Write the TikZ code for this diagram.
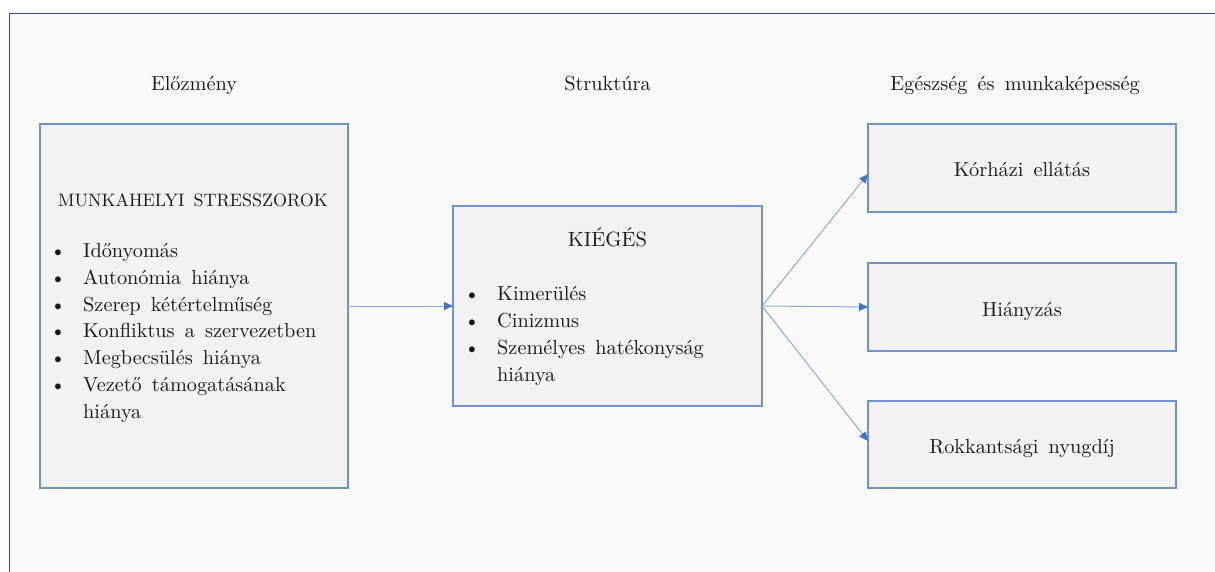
\documentclass[tikz,border=0pt]{standalone}
\usepackage{fontspec}
\setmainfont{lmroman10-regular.otf}
\usetikzlibrary{arrows.meta}
\definecolor{framec}{RGB}{47,82,143}
\definecolor{pagebg}{RGB}{250,250,250}
\definecolor{boxfill}{RGB}{242,242,242}
\definecolor{boxc}{RGB}{113,146,200}
\definecolor{connc}{RGB}{142,169,219}
\definecolor{tipc}{RGB}{68,114,196}
\definecolor{textc}{RGB}{25,25,25}
\newcommand\widesp{\spaceskip=0.5em\relax}
\newcommand\bodyfont{\fontsize{20.3}{26}\selectfont\widesp}
\newcommand\capfont{\fontsize{18}{24}\selectfont\widesp}
\newcommand\kfont{\fontsize{20.6}{26}\selectfont}
\begin{document}
\begin{tikzpicture}[x=1pt,y=-1pt,
  box/.style={draw=boxc, fill=boxfill, line width=1.3pt, inner sep=0pt, outer sep=0pt, anchor=north west},
  txt/.style={font=\bodyfont, text=textc, inner sep=0pt, anchor=base},
  captxt/.style={txt, font=\capfont},
  conn/.style={draw=connc, line width=1pt, -{Triangle[length=9pt,width=8pt,color=tipc]}}]
\useasboundingbox (0,0) rectangle (1215,572);
\fill[white] (0,0) rectangle (1215,572);
\fill[pagebg] (9.5,13.5) rectangle (1215,572);
\draw[framec, line width=1.5pt] (9.5,572) -- (9.5,13.5) -- (1215,13.5);

% headings
\node[txt] (h1) at (194,91) {Előzmény};
\node[txt] (h2) at (607.5,91) {Struktúra};
\node[txt] (h3) at (1015,91) {Egészség és munkaképesség};

% boxes
\node[box, minimum width=308pt, minimum height=364pt] (stress) at (40,124) {};
\node[box, minimum width=309pt, minimum height=200pt] (kieg) at (453,206) {};
\node[box, minimum width=308pt, minimum height=88pt] (b1) at (868,124) {};
\node[box, minimum width=308pt, minimum height=88pt] (b2) at (868,263) {};
\node[box, minimum width=308pt, minimum height=87pt] (b3) at (868,401) {};

% left box text
\node[captxt] (sttitle) at (193,206.5) {MUNKAHELYI STRESSZOROK};
\foreach \t [count=\i] in {Időnyomás, Autonómia hiánya, Szerep kétértelműség, Konfliktus a szervezetben, Megbecsülés hiánya, Vezető támogatásának, hiánya}
  \node[txt, anchor=base west] (st\i) at (83,{257.5+26.8*(\i-1)}) {\t};
\foreach \i in {1,...,6}
  \node[txt, anchor=base west] (sb\i) at (50,{257.5+26.8*(\i-1)}) {\textbullet};

% middle box text
\node[txt, font=\kfont] (ktitle) at (607.5,246.5) {KIÉGÉS};
\foreach \t [count=\i] in {Kimerülés, Cinizmus, Személyes hatékonyság, hiánya}
  \node[txt, anchor=base west] (kt\i) at (497,{300+27.2*(\i-1)}) {\t};
\foreach \i in {1,2,3}
  \node[txt, anchor=base west] (kb\i) at (464,{300+27.2*(\i-1)}) {\textbullet};

% right box texts
\node[txt] (r1) at (1022,177) {Kórházi ellátás};
\node[txt] (r2) at (1022,316) {Hiányzás};
\node[txt] (r3) at (1022,453) {Rokkantsági nyugdíj};

% connectors
\draw[conn] (stress.east) -- (kieg.west);
\draw[conn] (kieg.east) -- ([yshift=-6pt]b1.west);
\draw[conn] (kieg.east) -- (b2.west);
\draw[conn] (kieg.east) -- ([yshift=3.5pt]b3.west);
\end{tikzpicture}
\end{document}
